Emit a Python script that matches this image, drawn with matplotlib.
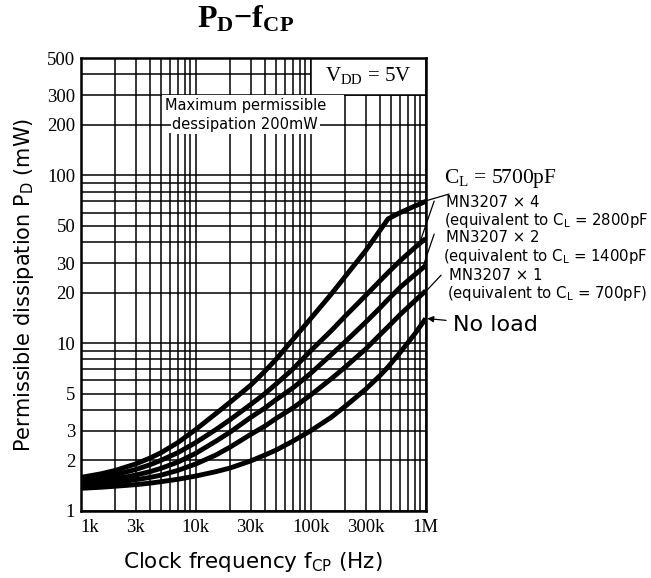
import numpy as np
import matplotlib.pyplot as plt
from matplotlib.patches import Rectangle

# clock frequency (Hz) and dissipation (mW)
freq = [1e3, 1.5e3, 2e3, 3e3, 4e3, 5e3, 7e3, 1e4, 1.5e4, 2e4, 3e4, 4e4, 5e4, 7e4,
        1e5, 1.5e5, 2e5, 3e5, 4e5, 4.7e5, 6e5, 8e5, 1e6]
pd_5700 = [1.58, 1.66, 1.74, 1.9, 2.06, 2.22, 2.55, 3.05, 3.8, 4.45, 5.6, 6.8, 8.0, 10.5,
           14, 19.5, 25, 35.5, 47, 55, 60, 65.5, 70]
pd_x4 = [1.52, 1.58, 1.64, 1.76, 1.88, 2.0, 2.22, 2.55, 3.05, 3.5, 4.3, 5.0, 5.7, 7.0,
         9.0, 11.8, 14.5, 19.2, 23.5, 26.3, 31, 37, 42]
pd_x2 = [1.47, 1.51, 1.55, 1.63, 1.71, 1.79, 1.95, 2.2, 2.6, 2.95, 3.6, 4.1, 4.6, 5.4,
         6.6, 8.5, 10.2, 13.3, 16.2, 18.2, 21.5, 25.5, 29]
pd_x1 = [1.42, 1.45, 1.48, 1.53, 1.58, 1.63, 1.74, 1.9, 2.15, 2.4, 2.85, 3.2, 3.55, 4.1,
         4.9, 6.1, 7.2, 9.2, 11.2, 12.5, 14.8, 17.8, 20.5]
pd_noload = [1.36, 1.38, 1.40, 1.43, 1.46, 1.49, 1.54, 1.61, 1.71, 1.8, 1.98, 2.15, 2.3, 2.6,
             3.0, 3.6, 4.2, 5.3, 6.4, 7.2, 8.8, 11.3, 14]

x_major = [1e3, 3e3, 1e4, 3e4, 1e5, 3e5, 1e6]
x_labels = ['1k', '3k', '10k', '30k', '100k', '300k', '1M']
y_major = [1, 2, 3, 5, 10, 20, 30, 50, 100, 200, 300, 500]

serif = 'Liberation Serif'
sans = 'DejaVu Sans'

fig = plt.figure(figsize=(6.51, 5.78), dpi=100)
ax = fig.add_axes([0.124, 0.1164, 0.530, 0.783])
ax.set_xscale('log')
ax.set_yscale('log')
ax.set_xlim(1e3, 1e6)
ax.set_ylim(1, 500)

x_minor = [m * 10**e for e in range(3, 6) for m in range(2, 10) if m * 10**e not in x_major]
y_minor = [m * 10**e for e in range(0, 3) for m in range(1, 10)
           if m * 10**e not in y_major and m * 10**e < 500]
ax.set_xticks(x_major, x_labels, fontfamily=serif, fontsize=13.5)
ax.set_xticks(x_minor, minor=True)
ax.set_xticklabels([], minor=True)
ax.get_xticklabels()[0].set_ha('left')
ax.set_yticks(y_major, [str(v) for v in y_major], fontfamily=serif, fontsize=13.5)
ax.set_yticks(y_minor, minor=True)
ax.set_yticklabels([], minor=True)
ax.tick_params(which='both', length=0)
ax.tick_params(axis='x', pad=6)
ax.tick_params(axis='y', pad=4)
ax.set_axisbelow(True)
ax.grid(which='both', color='black', lw=1.1)
for s in ax.spines.values():
    s.set_linewidth(1.8)

# text boxes blanking the grid
ax.add_patch(Rectangle((1e5, 300), 9e5, 200, facecolor='white',
                       edgecolor='black', lw=1.1, zorder=1))
ax.text(3.16e5, 395, r'$\mathdefault{V_{DD}}$ = 5V', fontfamily=serif, fontsize=15,
        ha='center', va='center', zorder=3)

ax.add_patch(Rectangle((5.1e3, 180), 1.95e5 - 5.1e3, 120, facecolor='white',
                       edgecolor='none', zorder=1))
ax.hlines(200, 5e3, 2e5, color='black', lw=1.1, zorder=1.5)
ax.text(2.7e4, 262, 'Maximum permissible', fontfamily=sans, fontsize=10.5,
        ha='center', va='center', zorder=3)
ax.text(2.7e4, 200, 'dessipation 200mW', fontfamily=sans, fontsize=10.5,
        ha='center', va='center', zorder=3,
        bbox=dict(facecolor='white', edgecolor='none', pad=1))

for vals in [pd_5700, pd_x4, pd_x2, pd_x1, pd_noload]:
    ax.plot(freq, vals, color='black', lw=3.5, solid_capstyle='butt',
            solid_joinstyle='round', zorder=4)

# right-hand labels with leader lines
lead = dict(arrowstyle='-', color='black', lw=0.9)
ax.annotate(r'$\mathdefault{C_L}$ = 5700pF', xy=(0.97e6, pd_5700[-1]), xycoords='data',
            xytext=(1.053, 0.733), textcoords='axes fraction', fontfamily=serif,
            fontsize=15.5, va='center', annotation_clip=False, arrowprops=lead)
ax.annotate('', xy=(0.88e6, 39), xytext=(1.027, 0.69), textcoords='axes fraction',
            annotation_clip=False, arrowprops=lead)
ax.annotate('', xy=(0.92e6, 27), xytext=(1.027, 0.617), textcoords='axes fraction',
            annotation_clip=False, arrowprops=lead)
ax.annotate('', xy=(0.98e6, 20), xytext=(1.05, 0.525), textcoords='axes fraction',
            annotation_clip=False, arrowprops=lead)
ax.annotate('No load', xy=(1.03e6, pd_noload[-1]), xycoords='data',
            xytext=(1.079, 0.41), textcoords='axes fraction', fontfamily=sans,
            fontsize=16, va='center', annotation_clip=False,
            arrowprops=dict(arrowstyle='-|>', color='black', lw=0.9, mutation_scale=9,
                            shrinkA=3, shrinkB=0))

side = [('MN3207 × 4', 1.059, 0.680), (r'(equivalent to $\mathdefault{C_L}$ = 2800pF', 1.053, 0.642),
        ('MN3207 × 2', 1.059, 0.603), (r'(equivalent to $\mathdefault{C_L}$ = 1400pF', 1.050, 0.561),
        ('MN3207 × 1', 1.067, 0.519), (r'(equivalent to $\mathdefault{C_L}$ = 700pF)', 1.061, 0.479)]
for txt, xf, yf in side:
    ax.text(xf, yf, txt, transform=ax.transAxes, fontfamily=sans, fontsize=10.7,
            va='center', ha='left', clip_on=False)

ax.set_xlabel(r'Clock frequency $\mathdefault{f_{CP}}$ (Hz)', fontfamily=sans, fontsize=15.5,
              labelpad=10)
ax.set_ylabel(r'Permissible dissipation $\mathdefault{P_D}$ (mW)', fontfamily=sans,
              fontsize=15, labelpad=8)
fig.text(0.377, 0.967, r'$\mathdefault{P_D}$−$\mathdefault{f_{CP}}$', fontfamily=serif,
         fontsize=23, fontweight='bold', ha='center', va='center')

fig.savefig('out.png', dpi=100)
